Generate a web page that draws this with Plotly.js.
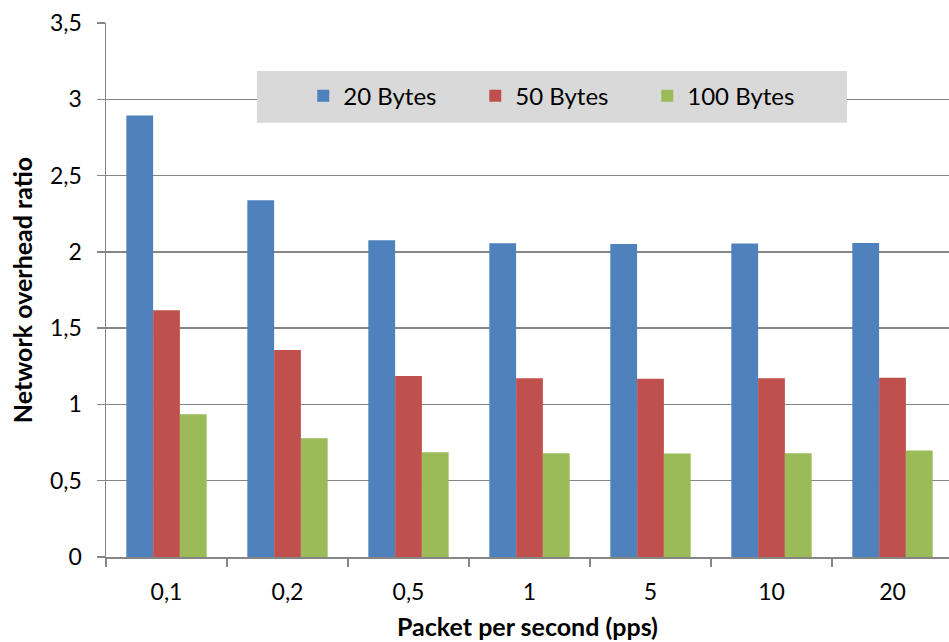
<!DOCTYPE html>
<html>
<head>
<meta charset="utf-8">
<script src="https://cdn.plot.ly/plotly-3.0.1.min.js"></script>
<style>html,body{margin:0;padding:0;background:#fff;}#chart{width:949px;height:642px;}</style>
</head>
<body>
<div id="chart"></div>
<script>
const categories = ["0,1", "0,2", "0,5", "1", "5", "10", "20"];
const seriesNames = ["20 Bytes", "50 Bytes", "100 Bytes"];
const bytes20 = [2.894, 2.339, 2.076, 2.056, 2.052, 2.054, 2.058];
const bytes50 = [1.617, 1.356, 1.186, 1.171, 1.168, 1.171, 1.175];
const bytes100 = [0.936, 0.779, 0.687, 0.680, 0.678, 0.680, 0.698];
const colors = ["#4F81BD", "#C0504D", "#9BBB59"];

const FONT = "Lato, 'Open Sans', sans-serif";
const traces = [bytes20, bytes50, bytes100].map((vals, i) => ({
  type: "bar",
  x: categories,
  y: vals,
  name: seriesNames[i],
  marker: {color: colors[i], line: {width: 0}}
}));

const layout = {
  width: 949, height: 642,
  margin: {l: 106, r: 0, t: 23, b: 85, pad: 0},
  paper_bgcolor: "#fff", plot_bgcolor: "#fff",
  separators: ", ",
  font: {family: FONT, size: 23, color: "#000"},
  barmode: "group",
  bargap: 0.336,
  bargroupgap: 0,
  showlegend: true,
  legend: {
    orientation: "h",
    x: 0.234, xanchor: "left",
    y: 0.863, yanchor: "middle",
    bgcolor: "rgba(0,0,0,0)",
    entrywidth: 127, entrywidthmode: "pixels",
    font: {family: FONT, size: 24, color: "#000"},
    traceorder: "normal"
  },
  shapes: [{
    type: "rect", xref: "paper", yref: "paper",
    x0: 0.179, x1: 0.879, y0: 0.813, y1: 0.910,
    fillcolor: "#D9D9D9", line: {width: 0}, layer: "above"
  }],
  xaxis: {
    type: "category",
    range: [-0.5, 6.467],
    showgrid: false,
    showline: true, linecolor: "#868686", linewidth: 1.5,
    ticks: "outside", tickson: "boundaries", ticklen: 8, tickcolor: "#868686", tickwidth: 1.5,
    ticklabelstandoff: 14,
    tickfont: {family: FONT, size: 23, color: "#000"},
    title: {text: "<b>Packet per second (pps)</b>", font: {family: FONT, size: 25, color: "#000"}, standoff: 14},
    fixedrange: true
  },
  yaxis: {
    range: [0, 3.5],
    dtick: 0.5, tick0: 0,
    showgrid: true, gridcolor: "#868686", gridwidth: 1.5,
    zeroline: false,
    showline: true, linecolor: "#868686", linewidth: 1.5,
    ticks: "outside", ticklen: 8, tickcolor: "#868686", tickwidth: 1.5,
    ticklabelstandoff: 10,
    tickfont: {family: FONT, size: 23, color: "#000"},
    title: {text: "<b>Network overhead ratio</b>", font: {family: FONT, size: 25, color: "#000"}, standoff: 10},
    fixedrange: true
  }
};

Plotly.newPlot("chart", traces, layout, {displayModeBar: false, staticPlot: true});
</script>
</body>
</html>
